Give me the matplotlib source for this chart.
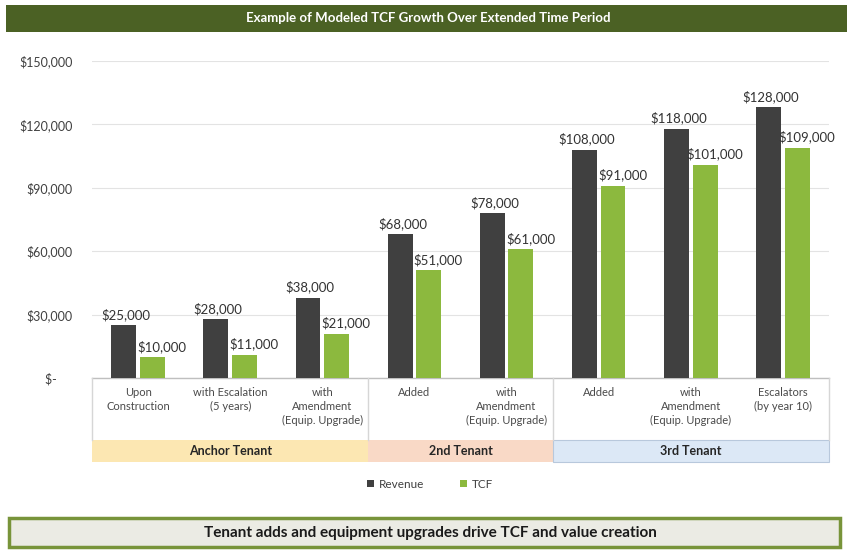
import matplotlib.pyplot as plt
import matplotlib.transforms as mtransforms
from matplotlib.patches import Rectangle
import numpy as np

plt.rcParams['font.family'] = ['Lato', 'DejaVu Sans']

# 数据
categories = ['Upon\nConstruction', 'with Escalation\n(5 years)', 'with\nAmendment\n(Equip. Upgrade)',
              'Added', 'with\nAmendment\n(Equip. Upgrade)',
              'Added', 'with\nAmendment\n(Equip. Upgrade)', 'Escalators\n(by year 10)']
revenue = [25000, 28000, 38000, 68000, 78000, 108000, 118000, 128000]
tcf = [10000, 11000, 21000, 51000, 61000, 91000, 101000, 109000]
groups = ['Anchor Tenant', '2nd Tenant', '3rd Tenant']
group_span = [(0, 2), (3, 4), (5, 7)]
group_colors = ['#fce7b2', '#f9d9c6', '#dce8f6']
yticks = [0, 30000, 60000, 90000, 120000, 150000]
ytick_labels = ['$-     ', '$30,000', '$60,000', '$90,000', '$120,000', '$150,000']

W, H = 847, 550
fig = plt.figure(figsize=(W / 100, H / 100), dpi=100)
fig.patch.set_facecolor('white')

def fy(px):
    return 1 - px / H

ax = fig.add_axes([92 / W, fy(378), (829 - 92) / W, (378 - 61) / H])
x = np.arange(len(categories))
ax.bar(x - 0.155, revenue, width=0.27, color='#404040', label='Revenue', zorder=3)
ax.bar(x + 0.155, tcf, width=0.27, color='#8cb93e', label='TCF', zorder=3)

for i in range(len(x)):
    ax.annotate(f'${revenue[i]:,}', (x[i] - 0.13, revenue[i]), xytext=(0, 3),
                textcoords='offset points', ha='center', va='bottom',
                fontsize=9.5, color='#333333')
    ax.annotate(f'${tcf[i]:,}', (x[i] + 0.26, tcf[i]), xytext=(0, 3),
                textcoords='offset points', ha='center', va='bottom',
                fontsize=9.5, color='#333333')

ax.set_xlim(-0.5, len(categories) - 0.5)
ax.set_ylim(0, 150000)
ax.set_yticks(yticks)
ax.set_yticklabels(ytick_labels, fontsize=9, color='#404040')
ax.set_xticks([])
ax.tick_params(axis='y', length=0, pad=14)
ax.grid(axis='y', color='#e3e3e3', linewidth=0.8, zorder=0)
for s in ax.spines.values():
    s.set_visible(False)

# 类别标签框与分组色带
tr = mtransforms.blended_transform_factory(ax.transData, fig.transFigure)
ax.plot([-0.5, 7.5], [fy(378), fy(378)], transform=tr, color='#bfbfbf', lw=1, clip_on=False)
for sep in [-0.5, 2.5, 4.5, 7.5]:
    ax.plot([sep, sep], [fy(378), fy(440)], transform=tr, color='#d6d6d6', lw=1, clip_on=False)
for i, lab in enumerate(categories):
    ax.text(x[i], fy(387), lab, transform=tr, ha='center', va='top', fontsize=8,
            color='#4a4a4a', linespacing=1.35)
for name, (a, b), c in zip(groups, group_span, group_colors):
    ax.add_patch(Rectangle((a - 0.5, fy(462)), b - a + 1, (462 - 440) / H, transform=tr,
                           facecolor=c, edgecolor='#b8c8dc' if name == '3rd Tenant' else 'none',
                           lw=0.8, clip_on=False))
    ax.text((a + b) / 2, fy(451), name, transform=tr, ha='center', va='center',
            fontsize=9, fontweight='bold', color='#262626')

# 图例
ax.legend(loc='center', bbox_to_anchor=(430 / W, fy(484)), bbox_transform=fig.transFigure,
          ncol=2, frameon=False, fontsize=8.5, handlelength=0.6, handleheight=0.6,
          columnspacing=3.0, handletextpad=0.4, labelcolor='#404040')

# 顶部标题栏
fig.patches.append(Rectangle((6 / W, fy(32)), (W - 6) / W, 27 / H, transform=fig.transFigure,
                             facecolor='#4b6124', edgecolor='none'))
fig.text(428 / W, fy(18.5), 'Example of Modeled TCF Growth Over Extended Time Period',
         ha='center', va='center', fontsize=9.5, fontweight='bold', color='white')

# 底部结论框
fig.patches.append(Rectangle((9 / W, fy(547)), 831 / W, 29 / H, transform=fig.transFigure,
                             facecolor='#ebebe4', edgecolor='#78943a', lw=2.5))
fig.text(430 / W, fy(533), 'Tenant adds and equipment upgrades drive TCF and value creation',
         ha='center', va='center', fontsize=11, fontweight='bold', color='#1a1a1a')

fig.savefig('out.png', dpi=100)
